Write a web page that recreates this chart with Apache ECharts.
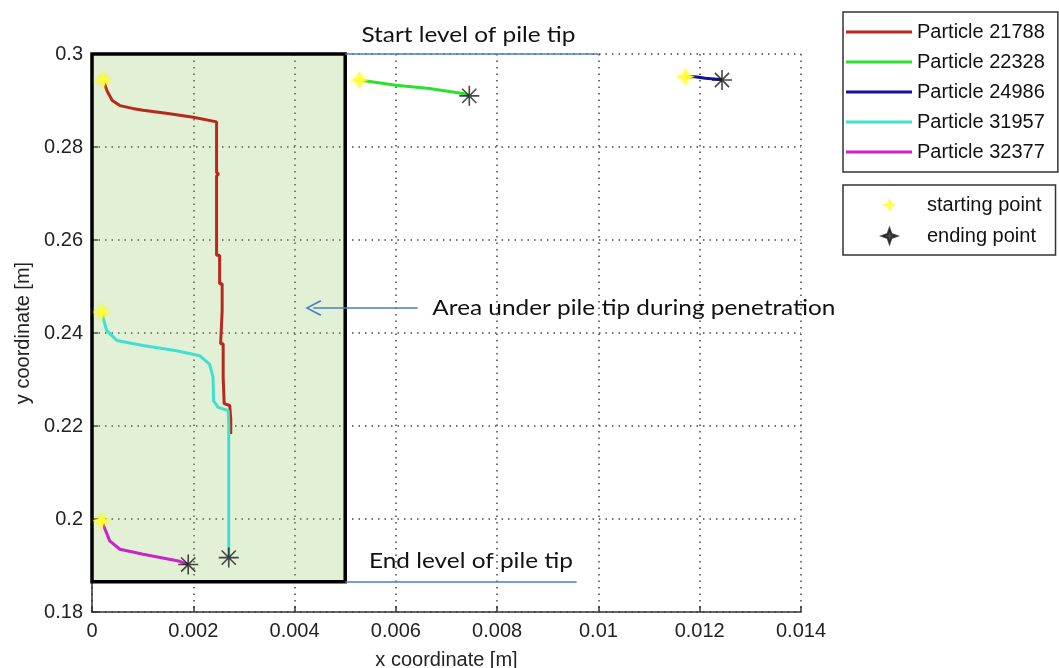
<!DOCTYPE html>
<html>
<head>
<meta charset="utf-8">
<script src="https://cdn.jsdelivr.net/npm/echarts@6/dist/echarts.min.js"></script>
<style>
html,body{margin:0;padding:0;background:#fff;}
#c{width:1059px;height:668px;}
</style>
</head>
<body>
<div id="c"></div>
<script>
// ---- axis ticks ----
const xTicks = [0, 0.002, 0.004, 0.006, 0.008, 0.01, 0.012, 0.014];
const yTicks = [0.18, 0.2, 0.22, 0.24, 0.26, 0.28, 0.3];

// ---- particle trajectories [x, y] ----
const names = ['Particle 21788', 'Particle 22328', 'Particle 24986', 'Particle 31957', 'Particle 32377'];
const colors = ['#b8281c', '#2ee02e', '#14149a', '#40e0d0', '#cc22cc'];

const p21788 = [
  [0.000223, 0.2944], [0.00030, 0.2920], [0.00040, 0.2900], [0.00055, 0.2889], [0.00080, 0.2883],
  [0.00101, 0.2879], [0.00150, 0.2872], [0.00200, 0.2864], [0.00246, 0.2854], [0.00246, 0.2745],
  [0.00250, 0.2742], [0.00246, 0.2738], [0.00246, 0.2567], [0.00252, 0.2567], [0.00252, 0.2506],
  [0.00257, 0.2506], [0.00257, 0.2448], [0.00254, 0.2445], [0.00254, 0.2377], [0.00259, 0.2377],
  [0.00259, 0.2305], [0.00261, 0.2305], [0.00261, 0.2248], [0.00272, 0.2244], [0.00274, 0.2215],
  [0.00274, 0.2183]
];
const p22328 = [[0.00528, 0.2944], [0.00600, 0.2933], [0.00666, 0.2926], [0.00732, 0.2915], [0.00745, 0.2910]];
const p24986 = [[0.01172, 0.2951], [0.01191, 0.2951], [0.01211, 0.2948], [0.01240, 0.2945], [0.01244, 0.2944]];
const p31957 = [
  [0.00019, 0.2445], [0.00029, 0.2405], [0.00049, 0.2384], [0.00101, 0.2373], [0.00167, 0.2362],
  [0.00213, 0.2351], [0.00232, 0.2333], [0.00239, 0.2305], [0.00240, 0.2254], [0.00249, 0.2240],
  [0.00269, 0.2233], [0.00270, 0.2200], [0.00270, 0.1917]
];
const p32377 = [[0.00019, 0.1996], [0.00035, 0.1953], [0.00055, 0.1935], [0.00101, 0.1924], [0.00173, 0.1909], [0.00190, 0.1902]];

const startPoints = [[0.000223, 0.2944], [0.00528, 0.2944], [0.01172, 0.2951], [0.00019, 0.2445], [0.00019, 0.1996]];
const endPoints = [[0.00745, 0.2910], [0.01244, 0.2944], [0.00270, 0.1917], [0.00190, 0.1902]];

// ---- annotations (data coordinates) ----
const pileArea = [[0, 0.18652], [0.0050, 0.3]];
const startLevel = [[0.0050, 0.3], [0.0100, 0.3]];
const endLevel = [[0.0050, 0.18652], [0.00957, 0.18652]];
const arrowLine = [[0.00643, 0.24538], [0.00437, 0.24538]];
const annoTexts = [
  { text: 'Start level of pile tip', at: [0.00532, 0.30409] },
  { text: 'End level of pile tip', at: [0.00547, 0.19086] },
  { text: 'Area under pile tip during penetration', at: [0.00672, 0.24538] }
];

const STAR4 = 'path://M10,0 L12.6,7.4 L20,10 L12.6,12.6 L10,20 L7.4,12.6 L0,10 L7.4,7.4 Z';
const ASTER = 'path://M10,0 L10,20 M0,10 L20,10 M2.9,2.9 L17.1,17.1 M2.9,17.1 L17.1,2.9';
const CHEV = 'path://M0,10 L5,0 L10,10 L9,10.6 L5,2.2 L1,10.6 Z';

const chart = echarts.init(document.getElementById('c'), null, { renderer: 'canvas' });
const FONT = '"Liberation Sans", Arial, sans-serif';
const fmt = v => String(parseFloat(Number(v).toFixed(4)));

const trajectories = [p21788, p22328, p24986, p31957, p32377];
const lineSeries = trajectories.map((d, i) => ({
  name: names[i], type: 'line', data: d, symbol: 'none', showSymbol: false,
  lineStyle: { color: colors[i], width: 3 }, itemStyle: { color: colors[i] }, z: 5
}));

const option = {
  animation: false,
  backgroundColor: '#fff',
  grid: { left: 92, right: 258, top: 54, bottom: 56, containLabel: false, outerBoundsMode: 'none' },
  xAxis: {
    type: 'value', min: xTicks[0], max: xTicks[xTicks.length - 1], interval: 0.002,
    name: 'x coordinate [m]', nameLocation: 'middle', nameGap: 38,
    nameTextStyle: { fontFamily: FONT, fontSize: 20, color: '#222' },
    axisLine: { show: true, onZero: false, lineStyle: { color: '#333', width: 1.5 } },
    axisTick: { show: true, inside: true, length: 6, lineStyle: { color: '#333', width: 1.5 } },
    axisLabel: { fontFamily: FONT, fontSize: 20, color: '#222', margin: 9, formatter: fmt },
    splitLine: { show: true, lineStyle: { color: '#444', width: 1.5, type: [1.5, 5] } }
  },
  yAxis: {
    type: 'value', min: yTicks[0], max: yTicks[yTicks.length - 1], interval: 0.02,
    name: 'y coordinate [m]', nameLocation: 'middle', nameGap: 59, nameRotate: 90,
    nameTextStyle: { fontFamily: FONT, fontSize: 20, color: '#222' },
    axisLine: { show: true, onZero: false, lineStyle: { color: '#333', width: 1.5 } },
    axisTick: { show: true, inside: true, length: 6, lineStyle: { color: '#333', width: 1.5 } },
    axisLabel: { fontFamily: FONT, fontSize: 20, color: '#222', margin: 9, formatter: fmt },
    splitLine: { show: true, lineStyle: { color: '#444', width: 1.5, type: [1.5, 5] } }
  },
  legend: [
    {
      data: names.map(n => ({ name: n, icon: 'rect' })), orient: 'vertical', left: 843, top: 12,
      padding: [10, 13, 10, 3], itemGap: 10, itemWidth: 66, itemHeight: 3,
      borderColor: '#333', borderWidth: 1.5, backgroundColor: '#fff',
      textStyle: { fontFamily: FONT, fontSize: 20, lineHeight: 20, color: '#111' },
      selectedMode: false
    },
    {
      data: [{ name: 'starting point', icon: STAR4 }, { name: 'ending point', icon: STAR4 }],
      orient: 'vertical', left: 843, top: 185,
      padding: [10, 14, 9, 38], itemGap: 11, itemWidth: 15, itemHeight: 15,
      borderColor: '#333', borderWidth: 1.5, backgroundColor: '#fff',
      textStyle: { fontFamily: FONT, fontSize: 20, lineHeight: 20, color: '#111', padding: [0, 0, 0, 25] },
      selectedMode: false
    }
  ],
  series: [
    {
      name: '_annotations', type: 'line', data: [], z: 1,
      markArea: {
        silent: true,
        itemStyle: { color: 'rgba(140,200,90,0.25)', borderColor: '#000', borderWidth: 3.5 },
        data: [[{ coord: pileArea[0] }, { coord: pileArea[1] }]]
      },
      markLine: {
        silent: true, symbol: ['none', 'none'], label: { show: false },
        lineStyle: { color: '#4a7ebb', width: 1.6, type: 'solid' },
        data: [
          [{ coord: startLevel[0] }, { coord: startLevel[1] }],
          [{ coord: endLevel[0] }, { coord: endLevel[1] }],
          [{ coord: arrowLine[0], symbol: 'none' }, { coord: arrowLine[1], symbol: CHEV, symbolSize: [16, 16] }]
        ]
      }
    },
    ...lineSeries,
    {
      name: 'starting point', type: 'scatter', data: startPoints, symbol: STAR4, symbolSize: 18, z: 6,
      itemStyle: { color: '#ffff33', opacity: 0.9, shadowBlur: 4, shadowColor: 'rgba(255,240,0,0.9)' }
    },
    {
      name: 'ending point', type: 'scatter', data: endPoints, symbol: ASTER, symbolSize: 20, z: 7,
      itemStyle: { color: '#1a1a1a', borderColor: '#1a1a1a', borderWidth: 1.6 }
    }
  ]
};
chart.setOption(option);

// annotation texts placed through the chart's own scales
const graphics = annoTexts.map(a => {
  const p = chart.convertToPixel({ gridIndex: 0 }, a.at);
  return {
    type: 'text', x: p[0], y: p[1], z: 20, scaleX: 1.16,
    style: { text: a.text, fontFamily: 'Lato, "Open Sans", sans-serif', fontSize: 21, fill: '#111', verticalAlign: 'middle', align: 'left' }
  };
});
chart.setOption({ graphic: graphics });
</script>
</body>
</html>
